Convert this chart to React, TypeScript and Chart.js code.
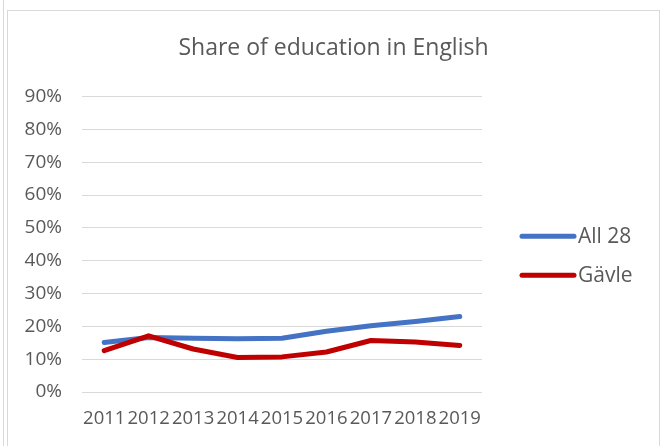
import React, { useEffect, useRef } from "react";
import { Chart, registerables, layouts } from "chart.js";

Chart.register(...registerables);

const years = ["2011", "2012", "2013", "2014", "2015", "2016", "2017", "2018", "2019"];
const all28 = [0.151, 0.166, 0.164, 0.162, 0.164, 0.185, 0.202, 0.215, 0.23];
const gavle = [0.126, 0.171, 0.131, 0.105, 0.107, 0.122, 0.157, 0.152, 0.142];
const seriesNames = ["All 28", "Gävle"];
const seriesColors = ["#4472C4", "#C00000"];
const titleText = "Share of education in English";

const FONT = "'Open Sans', sans-serif";
const TEXT = "#595959";
const GRID = "#D9D9D9";

function makeLegendBox(chart: any) {
  const box: any = {
    position: "right",
    weight: 1000,
    fullSize: false,
    options: {},
    left: 0,
    top: 0,
    right: 0,
    bottom: 0,
    width: 0,
    height: 0,
    isHorizontal() {
      return false;
    },
    update(_maxW: number, maxH: number) {
      this.width = 177;
      this.height = maxH;
      return { width: this.width, height: this.height };
    },
    getPadding() {
      return { top: 0, left: 0, right: 0, bottom: 0 };
    },
    draw() {
      const { ctx, chartArea } = chart;
      const x0 = chartArea.right + 38;
      const mid = (chartArea.top + chartArea.bottom) / 2;
      const rows = [mid - 8, mid + 31];
      ctx.save();
      chart.data.datasets.forEach((ds: any, i: number) => {
        const y = rows[i];
        ctx.strokeStyle = ds.borderColor;
        ctx.lineWidth = 5;
        ctx.lineCap = "round";
        ctx.beginPath();
        ctx.moveTo(x0 + 2, y);
        ctx.lineTo(x0 + 54, y);
        ctx.stroke();
        ctx.fillStyle = TEXT;
        ctx.font = `21px ${FONT}`;
        ctx.textBaseline = "middle";
        ctx.textAlign = "left";
        ctx.fillText(ds.label, x0 + 58, y + 1);
      });
      ctx.restore();
    },
  };
  return box;
}

const legendPlugin = {
  id: "sideLegend",
  beforeInit(chart: any) {
    const box = makeLegendBox(chart);
    chart._sideLegendBox = box;
    layouts.addBox(chart, box);
  },
};

export default function App() {
  const ref = useRef<HTMLCanvasElement | null>(null);

  useEffect(() => {
    if (!ref.current) return;
    const chart = new Chart(ref.current, {
      type: "line",
      data: {
        labels: years,
        datasets: [
          {
            label: seriesNames[0],
            data: all28,
            borderColor: seriesColors[0],
            backgroundColor: seriesColors[0],
            borderWidth: 5,
            pointRadius: 0,
            tension: 0,
            borderCapStyle: "round",
            borderJoinStyle: "round",
            order: 2,
          },
          {
            label: seriesNames[1],
            data: gavle,
            borderColor: seriesColors[1],
            backgroundColor: seriesColors[1],
            borderWidth: 5,
            pointRadius: 0,
            tension: 0,
            borderCapStyle: "round",
            borderJoinStyle: "round",
            order: 1,
          },
        ],
      },
      options: {
        animation: false,
        responsive: false,
        maintainAspectRatio: false,
        layout: { padding: 0 },
        plugins: {
          legend: { display: false },
          tooltip: { enabled: false },
          title: {
            display: true,
            text: titleText,
            color: TEXT,
            font: { family: FONT, size: 23, weight: "normal" },
            padding: { top: 24, bottom: 34 },
          },
        },
        scales: {
          x: {
            offset: true,
            grid: { display: false, drawTicks: false },
            border: { display: false },
            ticks: {
              color: TEXT,
              font: { family: FONT, size: 18.5 },
              padding: 16,
              maxRotation: 0,
              autoSkip: false,
            },
            afterFit: (s: any) => {
              s.height = 54;
            },
          },
          y: {
            min: 0,
            max: 0.9,
            grid: { color: GRID, lineWidth: 1, drawTicks: false },
            border: { display: false },
            ticks: {
              stepSize: 0.1,
              color: TEXT,
              font: { family: FONT, size: 19 },
              padding: 20,
              callback: (v: any) => `${Math.round(Number(v) * 100)}%`,
            },
            afterFit: (s: any) => {
              s.width = 74;
            },
          },
        },
      },
      plugins: [legendPlugin],
    });
    return () => chart.destroy();
  }, []);

  return (
    <div
      style={{
        position: "fixed",
        left: 0,
        top: 0,
        width: 661,
        height: 446,
        background: "#fff",
        overflow: "hidden",
      }}
    >
      <div style={{ position: "absolute", left: 3, top: 0, width: 1, height: 446, background: GRID }} />
      <div
        style={{
          position: "absolute",
          left: 7,
          top: 10,
          width: 651,
          height: 460,
          borderTop: `1px solid ${GRID}`,
          borderLeft: `1px solid ${GRID}`,
          borderRight: `1px solid ${GRID}`,
        }}
      />
      <canvas
        ref={ref}
        width={651}
        height={435}
        style={{ position: "absolute", left: 8, top: 11, width: 651, height: 435 }}
      />
    </div>
  );
}
